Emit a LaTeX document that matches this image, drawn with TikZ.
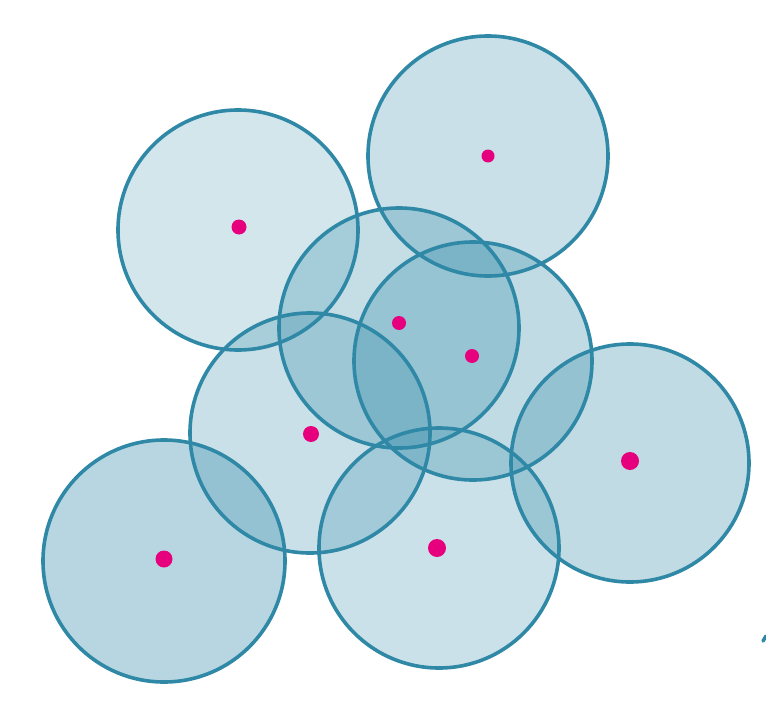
\documentclass[tikz,border=0pt]{standalone}
\definecolor{ringblue}{HTML}{2E88A6}
\definecolor{dotpink}{HTML}{E6007E}
\begin{document}
\begin{tikzpicture}[x=1pt,y=-1pt,
  disc/.style={draw=ringblue,line width=3.6pt,fill=ringblue,fill opacity=#1},
  disc/.default=0.24,
  centre/.style={fill=dotpink}]
  \useasboundingbox (0,0) rectangle (766,717);
  % discs
  \draw[disc=0.21] (238,230) circle[radius=120pt];
  \draw[disc=0.26] (488,156) circle[radius=120pt];
  \draw[disc=0.28] (399,328) circle[radius=120pt];
  \draw[disc=0.30] (473,361) circle[radius=119pt];
  \draw[disc=0.26] (310,433) circle[radius=120pt];
  \draw[disc=0.34] (164,561) circle[radius=121pt];
  \draw[disc=0.25] (439,548) circle[radius=120pt];
  \draw[disc=0.30] (630,463) circle[radius=119pt];
  % centres
  \fill[centre] (239,227) circle[radius=7.5pt];
  \fill[centre] (488,156) circle[radius=6.5pt];
  \fill[centre] (399,323) circle[radius=7pt];
  \fill[centre] (472,356) circle[radius=7pt];
  \fill[centre] (311,434) circle[radius=8pt];
  \fill[centre] (164,559) circle[radius=8.5pt];
  \fill[centre] (437,548) circle[radius=9pt];
  \fill[centre] (630,461) circle[radius=9pt];
  % stray mark
  \draw[ringblue,line width=3.6pt,line cap=round] (763,641)--(766,636);
\end{tikzpicture}
\end{document}
